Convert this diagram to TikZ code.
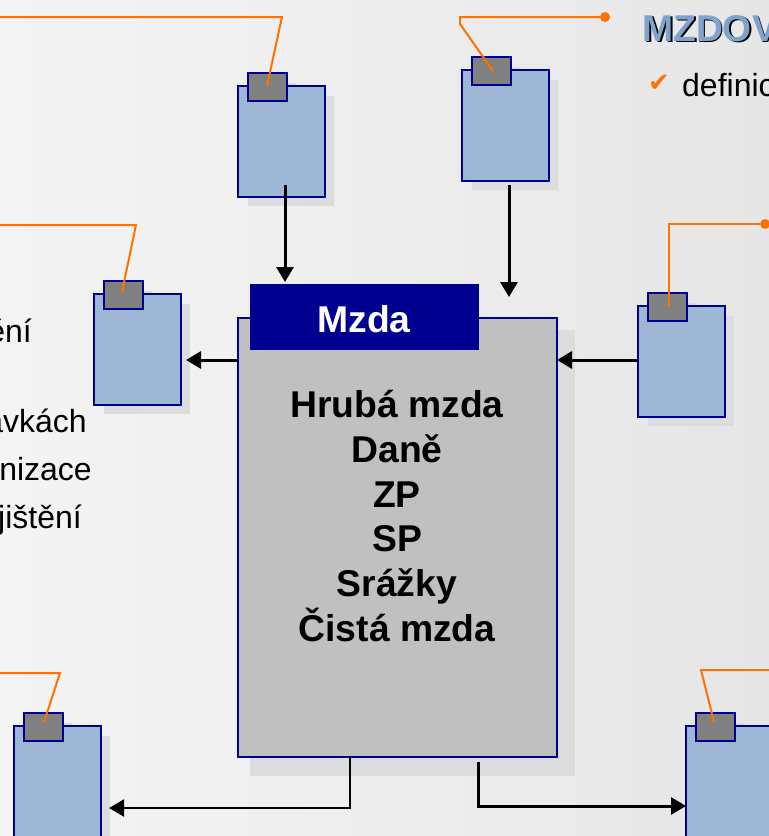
\documentclass[tikz,border=0pt]{standalone}
\usepackage{fontspec}
\setmainfont{Liberation Sans}
\newfontfamily\checkfont{DejaVu Sans}
\usetikzlibrary{arrows.meta}
\definecolor{navyb}{HTML}{000090}
\definecolor{paper}{HTML}{9DB7D5}
\definecolor{tabg}{HTML}{808080}
\definecolor{maing}{HTML}{C0C0C0}
\definecolor{dropgrey}{HTML}{DCDCDC}
\definecolor{lead}{HTML}{FF7200}
\definecolor{titleb}{HTML}{7FA3CC}
\definecolor{bgl}{HTML}{F4F4F4}
\definecolor{bgr}{HTML}{E6E6E6}
\tikzset{
  x=1pt,y=-1pt,
  sheet/.style={draw=navyb,line width=2pt,fill=paper},
  tabbox/.style={draw=navyb,line width=2pt,fill=tabg},
  bigbox/.style={draw=navyb,line width=2pt,fill=maing},
  flow/.style={draw=black,line width=3pt,-{Triangle[length=15pt,width=17pt]}},
  flowthin/.style={draw=black,line width=2.2pt,-{Triangle[length=15pt,width=17pt]}},
  leader/.style={draw=lead,line width=2pt},
  dotend/.style={circle,fill=lead,inner sep=0pt,minimum size=10pt},
  big/.style={font=\fontsize{37.3}{37.3}\selectfont\bfseries,text=black,inner sep=0pt,anchor=base},
  body/.style={font=\fontsize{32}{32}\selectfont,text=black,inner sep=0pt},
}
\newcommand{\clipboard}[3]{% name, left, top of sheet
  \fill[dropgrey] (#2+10,#3+10) rectangle (#2+96,#3+120);
  \fill[dropgrey] (#2+20,#3-3) rectangle (#2+58,#3+14);
  \node[sheet,minimum width=87pt,minimum height=111pt,inner sep=0pt,anchor=north west] (#1) at (#2-1,#3-1) {};
  \node[tabbox,minimum width=39pt,minimum height=28pt,inner sep=0pt,anchor=north west] (#1t) at (#2+9,#3-14) {};
}
\begin{document}
\begin{tikzpicture}
\useasboundingbox (0,0) rectangle (769,836);
\clip (0,0) rectangle (769,836);
\shade[left color=bgl,right color=bgr] (0,0) rectangle (769,836);
\fill[dropgrey] (250,330) rectangle (575,776);
\node[bigbox,minimum width=319pt,minimum height=439pt,inner sep=0pt,anchor=north west] (main) at (237,317) {};
\node[fill=navyb,minimum width=229pt,minimum height=66pt,inner sep=0pt,anchor=north west] (head) at (250,284) {};
\node[big,text=white] (headt) at (364,332) {Mzda};
\node[big] (l1) at (397,417) {Hrubá mzda};
\node[big] (l2) at (397,462) {Daně};
\node[big] (l3) at (397,507) {ZP};
\node[big] (l4) at (397,551) {SP};
\node[big] (l5) at (397,596) {Srážky};
\node[big] (l6) at (397,641) {Čistá mzda};
\clipboard{a}{238}{86}
\clipboard{b}{462}{70}
\clipboard{c}{94}{294}
\clipboard{d}{638}{306}
\clipboard{e}{14}{726}
\clipboard{f}{686}{726}
% leaders
\coordinate (ao) at (-2,17); \coordinate (ak) at (282,17); \coordinate (ae) at (267,86);
\draw[leader] (ao) -- (ak) -- (ae);
\node[dotend] (bd) at (605,17) {};
\coordinate (bk) at (460,17); \coordinate (bk2) at (460,24); \coordinate (be) at (493,71);
\draw[leader] (bd) -- (bk) -- (bk2) -- (be);
\coordinate (co) at (-2,225); \coordinate (ck) at (136,225); \coordinate (ce) at (122,292);
\draw[leader] (co) -- (ck) -- (ce);
\node[dotend] (dd) at (765,224) {};
\coordinate (dk) at (669,224); \coordinate (de) at (669,306);
\draw[leader] (dd) -- (dk) -- (de);
\coordinate (eo) at (-2,673); \coordinate (ek) at (60,673); \coordinate (ee) at (44,722);
\draw[leader] (eo) -- (ek) -- (ee);
\coordinate (fo) at (771,670); \coordinate (fk) at (701,670); \coordinate (fe) at (714,722);
\draw[leader] (fo) -- (fk) -- (fe);
% flows
\coordinate (as) at (285,185); \coordinate (at1) at (285,282);
\draw[flow] (as) -- (at1);
\coordinate (bs) at (509,185); \coordinate (bt1) at (509,297);
\draw[flow] (bs) -- (bt1);
\coordinate (cs) at (238,360); \coordinate (ct1) at (186,360);
\draw[flow] (cs) -- (ct1);
\coordinate (ds) at (638,360); \coordinate (dt1) at (557,360);
\draw[flow] (ds) -- (dt1);
\coordinate (es) at (350,756); \coordinate (ek2) at (350,808); \coordinate (et1) at (109,808);
\draw[flowthin] (es) -- (ek2) -- (et1);
\coordinate (fs) at (478,762); \coordinate (fk2) at (478,806); \coordinate (ft1) at (686,806);
\draw[flow] (fs) -- (fk2) -- (ft1);
% text
\node[big,anchor=base west,text=black] (tsh) at (643.8,42.8) {MZDOV};
\node[big,anchor=base west,text=titleb] (tt) at (642,41) {MZDOV};
\node[body,anchor=base west,text=lead,font=\fontsize{26}{26}\checkfont] (chk) at (648,91) {✔};
\node[body,anchor=base west] (t0) at (682,96) {definic};
\node[body,anchor=base east] (t1) at (32,342) {ění};
\node[body,anchor=base east] (t2) at (87,432) {avkách};
\node[body,anchor=base east] (t3) at (92,480) {nizace};
\node[body,anchor=base east] (t4) at (82,528) {jištění};
\end{tikzpicture}
\end{document}
